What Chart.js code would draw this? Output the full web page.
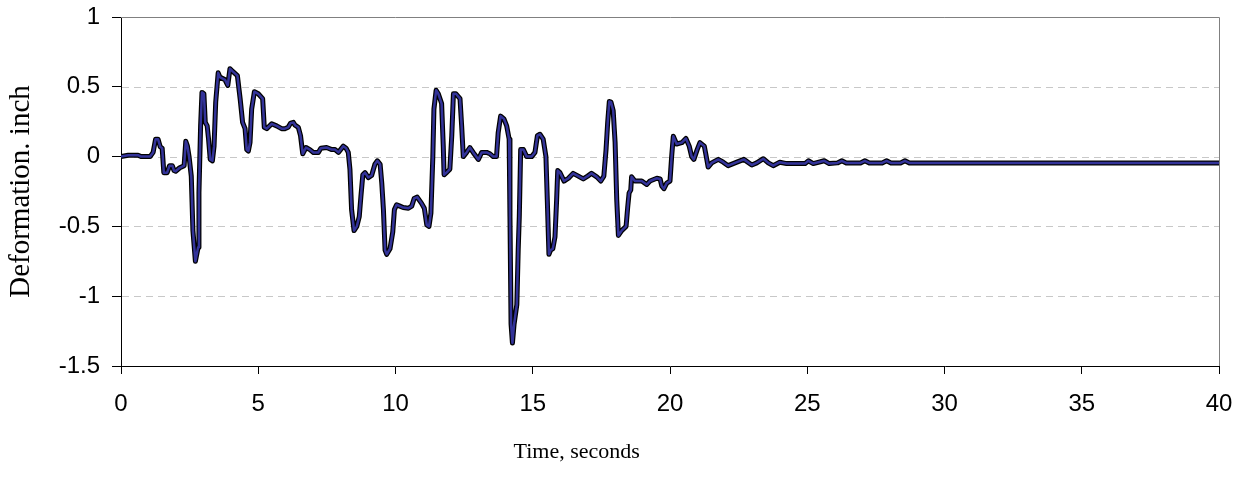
<!DOCTYPE html>
<html>
<head>
<meta charset="utf-8">
<script src="https://cdn.jsdelivr.net/npm/chart.js@4/dist/chart.umd.min.js"></script>
<style>
  html, body { margin: 0; padding: 0; background: #fff; }
  #wrap { width: 1236px; height: 477px; }
</style>
</head>
<body>
<div id="wrap"><canvas id="deformationChart"></canvas></div>
<script>
// time history, seconds
const timeSec = [
  0.00, 0.26, 0.62, 0.73, 1.06, 1.17, 1.26, 1.35, 1.43, 1.50,
  1.56, 1.68, 1.77, 1.87, 1.93, 1.99, 2.14, 2.30, 2.36, 2.42,
  2.48, 2.56, 2.62, 2.71, 2.81, 2.84, 2.90, 2.95, 3.02, 3.07,
  3.14, 3.19, 3.25, 3.33, 3.39, 3.45, 3.54, 3.60, 3.79, 3.89,
  3.97, 4.07, 4.24, 4.34, 4.43, 4.52, 4.58, 4.64, 4.70, 4.76,
  4.86, 5.00, 5.16, 5.22, 5.31, 5.49, 5.67, 5.85, 5.97, 6.09,
  6.18, 6.28, 6.34, 6.46, 6.54, 6.62, 6.74, 6.88, 7.01, 7.19,
  7.28, 7.49, 7.68, 7.80, 7.92, 8.10, 8.20, 8.28, 8.34, 8.40,
  8.49, 8.59, 8.68, 8.74, 8.81, 8.89, 9.01, 9.13, 9.25, 9.34,
  9.44, 9.50, 9.56, 9.62, 9.68, 9.80, 9.90, 9.96, 10.04, 10.16,
  10.28, 10.47, 10.59, 10.68, 10.79, 10.95, 11.05, 11.14, 11.22, 11.29,
  11.36, 11.40, 11.48, 11.56, 11.68, 11.74, 11.77, 11.86, 11.98, 12.05,
  12.11, 12.20, 12.35, 12.41, 12.47, 12.59, 12.71, 12.83, 13.02, 13.14,
  13.32, 13.44, 13.56, 13.68, 13.74, 13.83, 13.95, 14.05, 14.14, 14.17,
  14.21, 14.26, 14.32, 14.42, 14.47, 14.51, 14.56, 14.66, 14.78, 14.96,
  15.08, 15.17, 15.26, 15.38, 15.48, 15.53, 15.59, 15.65, 15.73, 15.81,
  15.87, 15.91, 15.99, 16.14, 16.30, 16.47, 16.66, 16.84, 17.00, 17.14,
  17.33, 17.48, 17.59, 17.67, 17.73, 17.79, 17.85, 17.93, 18.00, 18.06,
  18.12, 18.24, 18.40, 18.46, 18.51, 18.57, 18.60, 18.72, 18.97, 19.15,
  19.27, 19.52, 19.64, 19.70, 19.78, 19.88, 20.00, 20.06, 20.12, 20.24,
  20.43, 20.58, 20.70, 20.79, 20.87, 20.99, 21.09, 21.25, 21.34, 21.39,
  21.52, 21.76, 21.94, 22.12, 22.37, 22.69, 22.98, 23.16, 23.40, 23.58,
  23.76, 24.00, 24.25, 24.92, 25.04, 25.22, 25.62, 25.80, 26.10, 26.26,
  26.42, 26.94, 27.10, 27.26, 27.73, 27.89, 28.05, 28.40, 28.56, 28.72,
  40.00
];

// deformation, inch
const deformation = [
  0.000, 0.010, 0.010, 0.000, 0.000, 0.030, 0.125, 0.125, 0.070, 0.060,
  -0.115, -0.115, -0.065, -0.065, -0.100, -0.105, -0.080, -0.065, 0.110, 0.075,
  0.000, -0.140, -0.530, -0.750, -0.650, -0.260, 0.220, 0.460, 0.450, 0.245,
  0.220, 0.125, -0.020, -0.030, 0.075, 0.390, 0.600, 0.570, 0.550, 0.510,
  0.630, 0.610, 0.580, 0.415, 0.245, 0.200, 0.050, 0.040, 0.100, 0.340,
  0.465, 0.450, 0.415, 0.210, 0.200, 0.235, 0.220, 0.200, 0.200, 0.210,
  0.240, 0.245, 0.225, 0.210, 0.150, 0.020, 0.065, 0.050, 0.030, 0.030,
  0.060, 0.065, 0.050, 0.050, 0.030, 0.075, 0.060, 0.030, -0.090, -0.380,
  -0.530, -0.500, -0.430, -0.285, -0.130, -0.115, -0.150, -0.135, -0.055, -0.030,
  -0.055, -0.190, -0.380, -0.670, -0.700, -0.660, -0.540, -0.380, -0.345, -0.355,
  -0.365, -0.370, -0.355, -0.300, -0.290, -0.335, -0.370, -0.490, -0.500, -0.405,
  0.000, 0.340, 0.475, 0.450, 0.380, 0.075, -0.130, -0.115, -0.090, 0.150,
  0.450, 0.450, 0.415, 0.220, 0.000, 0.030, 0.065, 0.030, -0.020, 0.030,
  0.030, 0.020, 0.000, 0.000, 0.170, 0.290, 0.270, 0.220, 0.125, -0.430,
  -1.200, -1.335, -1.200, -1.060, -0.670, -0.430, 0.050, 0.050, 0.000, 0.000,
  0.030, 0.150, 0.160, 0.125, 0.000, -0.310, -0.700, -0.670, -0.660, -0.575,
  -0.310, -0.100, -0.115, -0.175, -0.155, -0.120, -0.140, -0.160, -0.140, -0.120,
  -0.145, -0.175, -0.140, 0.050, 0.245, 0.395, 0.390, 0.330, 0.100, -0.310,
  -0.565, -0.530, -0.500, -0.360, -0.260, -0.240, -0.145, -0.175, -0.175, -0.200,
  -0.175, -0.155, -0.160, -0.210, -0.230, -0.190, -0.175, 0.000, 0.145, 0.090,
  0.100, 0.130, 0.075, 0.000, -0.020, 0.050, 0.100, 0.075, -0.020, -0.075,
  -0.045, -0.020, -0.040, -0.065, -0.045, -0.020, -0.060, -0.045, -0.015, -0.045,
  -0.065, -0.040, -0.050, -0.050, -0.030, -0.050, -0.030, -0.050, -0.045, -0.030,
  -0.045, -0.045, -0.030, -0.045, -0.045, -0.030, -0.045, -0.045, -0.030, -0.045,
  -0.045
];

const yTicks = [1, 0.5, 0, -0.5, -1, -1.5];
const xTicks = [0, 5, 10, 15, 20, 25, 30, 35, 40];
// dashed gridlines inside the plot (top and bottom are the frame/axis)
const yGridValues = [0.5, 0, -0.5, -1];
const xTitle = 'Time, seconds';

const points = timeSec.map((t, i) => ({ x: t, y: deformation[i] }));

// dashed horizontal gridlines + gray frame on top/right
const plotFrame = {
  id: 'plotFrame',
  beforeDatasetsDraw(chart) {
    const { ctx, chartArea: a, scales: { y } } = chart;
    ctx.save();
    ctx.strokeStyle = '#c8c8c8';
    ctx.lineWidth = 1;
    ctx.setLineDash([7, 5]);
    yGridValues.forEach(v => {
      const py = Math.round(y.getPixelForValue(v)) + 0.5;
      ctx.beginPath();
      ctx.moveTo(a.left + 1, py);
      ctx.lineTo(a.right, py);
      ctx.stroke();
    });
    ctx.setLineDash([]);
    ctx.strokeStyle = '#808080';
    ctx.beginPath();
    ctx.moveTo(a.left, a.top + 0.5);
    ctx.lineTo(a.right + 0.5, a.top + 0.5);
    ctx.lineTo(a.right + 0.5, a.bottom);
    ctx.stroke();
    ctx.restore();
  },
  // x axis title sits a bit left of the plot centre
  afterDraw(chart) {
    const { ctx, chartArea: a } = chart;
    ctx.save();
    ctx.font = '22px "Liberation Serif", "Times New Roman", serif';
    ctx.fillStyle = '#000';
    ctx.textAlign = 'center';
    ctx.textBaseline = 'middle';
    ctx.fillText(xTitle, a.left + (a.right - a.left) * 0.415, a.bottom + 86);
    ctx.restore();
  }
};

const tickFont = { family: 'Liberation Sans, Arial', size: 24 };

new Chart(document.getElementById('deformationChart'), {
  type: 'line',
  data: {
    datasets: [
      {
        label: 'Deformation',
        data: points,
        borderColor: '#333399',
        borderWidth: 2.5,
        pointRadius: 0,
        tension: 0,
        borderJoinStyle: 'round',
        borderCapStyle: 'round',
        fill: false
      },
      {
        // dark outline under the blue trace
        label: 'outline',
        data: points,
        borderColor: '#000000',
        borderWidth: 5,
        pointRadius: 0,
        tension: 0,
        borderJoinStyle: 'round',
        borderCapStyle: 'round',
        fill: false
      }
    ]
  },
  options: {
    responsive: true,
    maintainAspectRatio: false,
    animation: false,
    layout: {
      padding: { top: 17, right: 17, left: 0, bottom: 0 }
    },
    plugins: {
      legend: { display: false },
      tooltip: { enabled: false }
    },
    scales: {
      x: {
        type: 'linear',
        min: 0,
        max: 40,
        afterBuildTicks: (scale) => { scale.ticks = xTicks.map(v => ({ value: v })); },
        afterFit: (scale) => {
          scale.height = 111;
          scale.paddingLeft = 0;
          scale.paddingRight = 0;
        },
        ticks: {
          color: '#000',
          padding: 16,
          font: tickFont,
          callback: (v) => String(v)
        },
        grid: {
          drawOnChartArea: false,
          tickLength: 8,
          tickColor: '#000'
        },
        border: { color: '#000', width: 1 },
        title: { display: false }
      },
      y: {
        min: -1.5,
        max: 1,
        afterBuildTicks: (scale) => { scale.ticks = yTicks.map(v => ({ value: v })); },
        afterFit: (scale) => {
          scale.width = 121;
          scale.paddingTop = 0;
          scale.paddingBottom = 0;
        },
        ticks: {
          color: '#000',
          padding: 12,
          font: tickFont,
          callback: (v) => String(v)
        },
        grid: {
          drawOnChartArea: false,
          tickLength: 9,
          tickColor: '#000'
        },
        border: { color: '#000', width: 1 },
        title: {
          display: true,
          text: 'Deformation. inch',
          color: '#000',
          font: { family: 'Liberation Serif, Times New Roman', size: 29 },
          padding: { top: 4, bottom: 0 }
        }
      }
    }
  },
  plugins: [plotFrame]
});
</script>
</body>
</html>
